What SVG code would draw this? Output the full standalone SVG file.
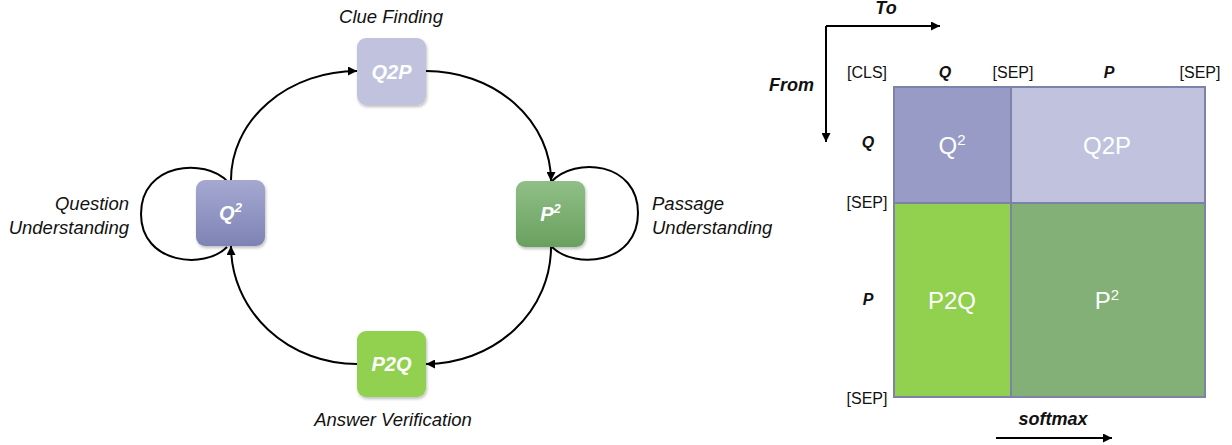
<svg xmlns="http://www.w3.org/2000/svg" width="1232" height="445" viewBox="0 0 1232 445">
<style>
.lbl{font-family:"Liberation Sans",Arial,sans-serif;font-size:18.5px;font-style:italic;fill:#111}
.ntxt{font-family:"Liberation Sans",Arial,sans-serif;font-size:20px;font-weight:bold;font-style:italic;fill:#fff;text-anchor:middle}
.hdr{font-family:"Liberation Sans",Arial,sans-serif;font-size:16px;fill:#111;text-anchor:middle}
.hb{font-family:"Liberation Sans",Arial,sans-serif;font-size:16px;font-weight:bold;font-style:italic;fill:#111;text-anchor:middle}
.ax{font-family:"Liberation Sans",Arial,sans-serif;font-size:18px;font-weight:bold;font-style:italic;fill:#111}
.cell{font-family:"Liberation Sans",Arial,sans-serif;font-size:24px;fill:#fff;text-anchor:middle}
.conn{fill:none;stroke:#000;stroke-width:2}
.mline{stroke:#7d82a8;stroke-width:2}
</style>
<defs>
<marker id="ah" viewBox="0 0 10 10" refX="10" refY="5" markerWidth="9" markerHeight="9" markerUnits="userSpaceOnUse" orient="auto">
<path d="M0,0 L10,5 L0,10 z" fill="#000"/>
</marker>
<linearGradient id="gq" x1="0" y1="0" x2="0" y2="1"><stop offset="0" stop-color="#a5a8d0"/><stop offset="1" stop-color="#7e83b6"/></linearGradient>
<linearGradient id="gp" x1="0" y1="0" x2="0" y2="1"><stop offset="0" stop-color="#90bf87"/><stop offset="1" stop-color="#69a05f"/></linearGradient>
<filter id="sh" x="-20%" y="-20%" width="150%" height="150%"><feDropShadow dx="1" dy="2" stdDeviation="1.5" flood-color="#000" flood-opacity="0.25"/></filter>
</defs>

<g id="connectors">
<path class="conn" d="M228,182 C205,157 141,163 141,214 C141,264 205,270 227,247"/>
<path class="conn" d="M551,182 C575,156 638,162 638,213 C638,264 575,270 552,247"/>
<path class="conn" marker-end="url(#ah)" d="M231,180 A126,109 0 0 1 357,71"/>
<path class="conn" marker-end="url(#ah)" d="M426,71 A125,110 0 0 1 551,181"/>
<path class="conn" marker-end="url(#ah)" d="M551,247 A125,117 0 0 1 426,364"/>
<path class="conn" marker-end="url(#ah)" d="M357,364 A126,118 0 0 1 231,246"/>
</g>

<g id="node-q2p">
<rect x="357" y="38" width="69" height="67" rx="9" fill="#c0c2de" filter="url(#sh)"/>
<text class="ntxt" x="391.5" y="79">Q2P</text>
</g>
<g id="node-q2">
<rect x="196" y="180" width="69" height="66" rx="9" fill="url(#gq)" filter="url(#sh)"/>
<text class="ntxt" x="230.5" y="220">Q<tspan font-size="13" dy="-8">2</tspan></text>
</g>
<g id="node-p2">
<rect x="516" y="181" width="69" height="66" rx="9" fill="url(#gp)" filter="url(#sh)"/>
<text class="ntxt" x="550.5" y="221">P<tspan font-size="13" dy="-8">2</tspan></text>
</g>
<g id="node-p2q">
<rect x="357" y="331" width="69" height="66" rx="9" fill="#92d050" filter="url(#sh)"/>
<text class="ntxt" x="391.5" y="371">P2Q</text>
</g>

<g id="labels">
<text class="lbl" x="391" y="23" text-anchor="middle">Clue Finding</text>
<text class="lbl" x="129" y="210" text-anchor="end">Question</text>
<text class="lbl" x="129" y="234" text-anchor="end">Understanding</text>
<text class="lbl" x="652" y="210">Passage</text>
<text class="lbl" x="652" y="234">Understanding</text>
<text class="lbl" x="393" y="426" text-anchor="middle">Answer Verification</text>
</g>

<g id="matrix">
<rect x="894" y="87" width="117" height="116" fill="#979bc6"/>
<rect x="1011" y="87" width="194" height="116" fill="#c0c2de"/>
<rect x="894" y="203" width="117" height="194" fill="#92d050"/>
<rect x="1011" y="203" width="194" height="194" fill="#82b077"/>
<rect x="894" y="87" width="311" height="310" fill="none" class="mline"/>
<line class="mline" x1="1011" y1="87" x2="1011" y2="397"/>
<line class="mline" x1="894" y1="203" x2="1205" y2="203"/>
<text class="cell" x="952" y="154">Q<tspan font-size="15" dy="-9">2</tspan></text>
<text class="cell" x="1107" y="154">Q2P</text>
<text class="cell" x="952" y="309">P2Q</text>
<text class="cell" x="1107" y="309">P<tspan font-size="15" dy="-9">2</tspan></text>
</g>

<g id="matrix-headers">
<text class="hdr" x="867" y="78">[CLS]</text>
<text class="hb" x="945" y="78">Q</text>
<text class="hdr" x="1013" y="78">[SEP]</text>
<text class="hb" x="1109" y="78">P</text>
<text class="hdr" x="1200" y="78">[SEP]</text>
<text class="hb" x="868" y="148">Q</text>
<text class="hdr" x="867" y="208">[SEP]</text>
<text class="hb" x="868" y="305">P</text>
<text class="hdr" x="867" y="404">[SEP]</text>
</g>

<g id="axes">
<path class="conn" marker-end="url(#ah)" d="M826,26 L940,26"/>
<path class="conn" marker-end="url(#ah)" d="M826,26 L826,142"/>
<text class="ax" x="886" y="14" text-anchor="middle">To</text>
<text class="ax" x="814" y="91" text-anchor="end">From</text>
<text class="ax" x="1053" y="425" text-anchor="middle">softmax</text>
<path class="conn" stroke-width="1.6" marker-end="url(#ah)" d="M996,438 L1112,438"/>
</g>
</svg>
